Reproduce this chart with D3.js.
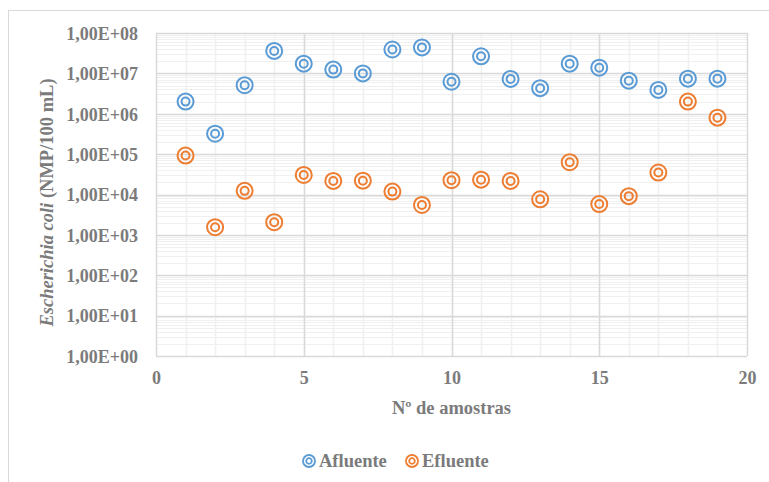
<!DOCTYPE html>
<html>
<head>
<meta charset="utf-8">
<script src="https://cdn.jsdelivr.net/npm/d3@7"></script>
<style>
  html, body { margin: 0; padding: 0; background: #fff; }
  svg { display: block; }
  text { font-family: "Liberation Serif", "Times New Roman", serif; font-weight: bold; fill: #7b7b7b; }
</style>
</head>
<body>
<div id="chart"></div>
<script>
(function () {
    "use strict";

    var samples = [1, 2, 3, 4, 5, 6, 7, 8, 9, 10, 11, 12, 13, 14, 15, 16, 17, 18, 19];
    var afluente = [2.0e6, 3.2e5, 5.1e6, 3.6e7, 1.74e7, 1.24e7, 1.0e7, 3.9e7, 4.4e7, 6.2e6,
        2.65e7, 7.3e6, 4.3e6, 1.74e7, 1.38e7, 6.6e6, 3.9e6, 7.4e6, 7.4e6];
    var efluente = [9.2e4, 1.55e3, 1.23e4, 2.06e3, 3.05e4, 2.17e4, 2.2e4, 1.18e4, 5.5e3, 2.26e4,
        2.33e4, 2.17e4, 7.6e3, 6.3e4, 5.8e3, 9.1e3, 3.5e4, 2.0e6, 8.0e5];
    var xTicks = [0, 5, 10, 15, 20];
    var yTicks = [1, 1e1, 1e2, 1e3, 1e4, 1e5, 1e6, 1e7, 1e8];
    var seriesNames = ['Afluente', 'Efluente'];
    var seriesColors = ['#5b9bd5', '#ed7d31'];

    var config = {
        width: 769,
        height: 482,
        margin: { top: 33, right: 22, bottom: 126, left: 156 }
    };

    function fmt(v) {
        var e = Math.round(Math.log10(v));
        return '1,00E+' + (e < 10 ? '0' : '') + e;
    }

    function drawMarker(g, color) {
        g.append('circle').attr('r', 8).attr('fill', 'none')
            .attr('stroke', color).attr('stroke-width', 2);
        g.append('circle').attr('r', 4).attr('fill', 'none')
            .attr('stroke', color).attr('stroke-width', 2);
    }

    function drawChart() {
        var m = config.margin;
        var w = config.width - m.left - m.right;
        var h = config.height - m.top - m.bottom;

        var svg = d3.select('#chart').html('').append('svg')
            .attr('width', config.width)
            .attr('height', config.height);

        // outer chart frame (cut off on right/bottom)
        svg.append('rect')
            .attr('x', 8.5).attr('y', 10.5)
            .attr('width', 800).attr('height', 500)
            .attr('fill', 'none').attr('stroke', '#d9d9d9');

        var x = d3.scaleLinear().domain([0, 20]).range([0, w]);
        var y = d3.scaleLog().domain([1, 1e8]).range([h, 0]);

        var g = svg.append('g').attr('transform', 'translate(' + m.left + ',' + m.top + ')');

        // minor horizontal grid
        var minorY = [];
        for (var e = 0; e < 8; e++) {
            for (var k = 2; k <= 9; k++) minorY.push(k * Math.pow(10, e));
        }
        g.selectAll('.minor-y').data(minorY).enter().append('line')
            .attr('x1', 0).attr('x2', w)
            .attr('y1', function (d) { return Math.round(y(d)) + 0.5; })
            .attr('y2', function (d) { return Math.round(y(d)) + 0.5; })
            .attr('stroke', '#f0f0f0');

        // minor vertical grid
        g.selectAll('.minor-x').data(d3.range(1, 20)).enter().append('line')
            .attr('y1', 0).attr('y2', h)
            .attr('x1', function (d) { return Math.round(x(d)) + 0.5; })
            .attr('x2', function (d) { return Math.round(x(d)) + 0.5; })
            .attr('stroke', '#f0f0f0').attr('stroke-width', 1.5);

        // major grid
        g.selectAll('.major-y').data(yTicks).enter().append('line')
            .attr('x1', 0).attr('x2', w)
            .attr('y1', function (d) { return Math.round(y(d)) + 0.5; })
            .attr('y2', function (d) { return Math.round(y(d)) + 0.5; })
            .attr('stroke', '#d9d9d9').attr('stroke-width', 1.5);
        g.selectAll('.major-x').data(xTicks).enter().append('line')
            .attr('y1', 0).attr('y2', h)
            .attr('x1', function (d) { return Math.round(x(d)) + 0.5; })
            .attr('x2', function (d) { return Math.round(x(d)) + 0.5; })
            .attr('stroke', '#d9d9d9').attr('stroke-width', 1.5);

        // axes
        var yAxis = d3.axisLeft(y).tickValues(yTicks).tickFormat(fmt).tickSize(0).tickPadding(18);
        var yg = g.append('g').call(yAxis);
        yg.select('.domain').remove();
        yg.selectAll('text').style('font-size', '18px').attr('dy', '0.35em');

        var xAxis = d3.axisBottom(x).tickValues(xTicks).tickSize(0).tickPadding(15);
        var xg = g.append('g').attr('transform', 'translate(0,' + h + ')').call(xAxis);
        xg.select('.domain').remove();
        xg.selectAll('text').style('font-size', '18px');

        // axis titles
        svg.append('text')
            .attr('x', m.left + w / 2).attr('y', 414)
            .attr('text-anchor', 'middle')
            .style('font-size', '18.5px')
            .text('Nº de amostras');

        var yt = svg.append('text')
            .attr('transform', 'translate(53,' + (m.top + h / 2 + 8) + ') rotate(-90)')
            .attr('text-anchor', 'middle')
            .style('font-size', '18.5px');
        yt.append('tspan').style('font-style', 'italic').text('Escherichia coli');
        yt.append('tspan').text(' (NMP/100 mL)');

        // points
        [afluente, efluente].forEach(function (vals, si) {
            g.append('g').selectAll('g').data(vals).enter().append('g')
                .attr('transform', function (d, i) {
                    return 'translate(' + x(samples[i]) + ',' + y(d) + ')';
                })
                .each(function () { drawMarker(d3.select(this), seriesColors[si]); });
        });

        // legend
        var legendX = [309, 412];
        seriesNames.forEach(function (name, i) {
            var lg = svg.append('g').attr('transform', 'translate(' + legendX[i] + ',461)');
            lg.append('circle').attr('r', 6).attr('fill', 'none')
                .attr('stroke', seriesColors[i]).attr('stroke-width', 1.8);
            lg.append('circle').attr('r', 2.8).attr('fill', 'none')
                .attr('stroke', seriesColors[i]).attr('stroke-width', 1.8);
            lg.append('text').attr('x', 10).attr('dy', '0.35em')
                .style('font-size', '18.5px').text(name);
        });
    }

    drawChart();
})();
</script>
</body>
</html>
